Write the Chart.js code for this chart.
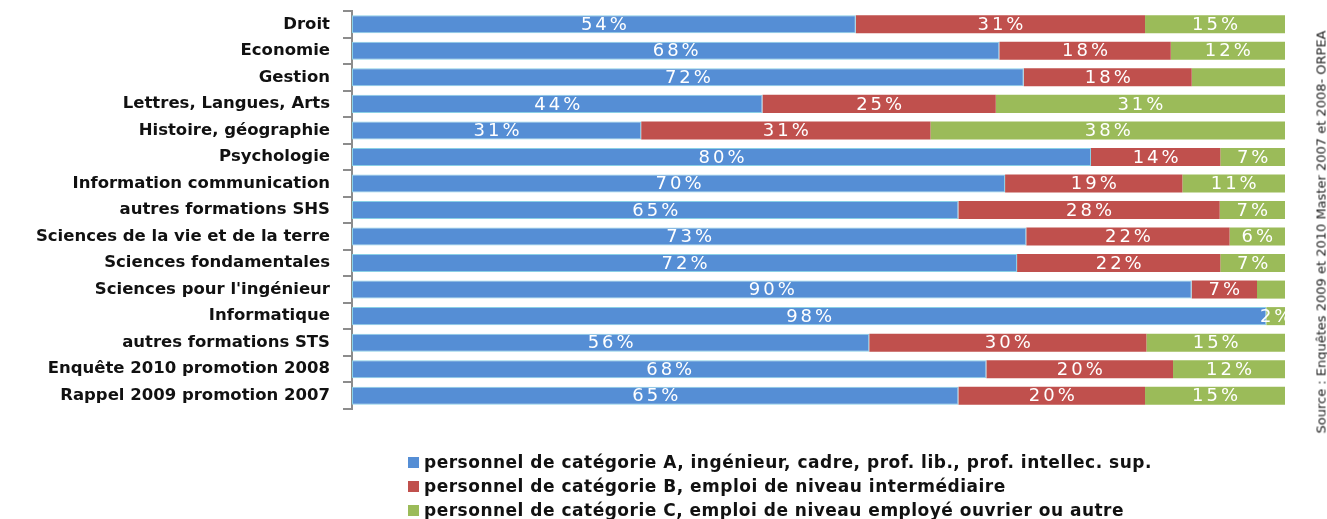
<!DOCTYPE html>
<html>
<head>
<meta charset="utf-8">
<script src="https://cdn.jsdelivr.net/npm/chart.js@4"></script>
<style>
  html, body { margin: 0; padding: 0; background: #fff; }
  #wrap { position: relative; width: 1327px; height: 519px; overflow: hidden; }
  #c { position: absolute; left: 0; top: 0; }
  #legend { position: absolute; left: 408px; top: 450px; font-family: "DejaVu Sans", sans-serif; font-weight: bold; font-size: 17px; color: #111; letter-spacing: 0.5px; }
  #legend div { height: 24px; line-height: 24px; white-space: nowrap; }
  #legend span.sw { display: inline-block; width: 11px; height: 11px; margin-right: 5px; vertical-align: 0px; }
  #source { position: absolute; left: 1321px; top: 232px; transform: translate(-50%, -50%) rotate(-90deg); font-family: "DejaVu Sans", sans-serif; font-size: 13px; font-weight: normal; color: #222; white-space: nowrap; }
</style>
</head>
<body>
<div id="wrap">
  <canvas id="c" width="1327" height="519"></canvas>
  <div id="legend"></div>
  <div id="source">Source : Enquêtes 2009 et 2010 Master 2007 et 2008- ORPEA</div>
</div>
<script>
const categories = [
  "Droit",
  "Economie",
  "Gestion",
  "Lettres, Langues, Arts",
  "Histoire, géographie",
  "Psychologie",
  "Information communication",
  "autres formations SHS",
  "Sciences de la vie et de la terre",
  "Sciences fondamentales",
  "Sciences pour l'ingénieur",
  "Informatique",
  "autres formations STS",
  "Enquête 2010 promotion 2008",
  "Rappel 2009 promotion 2007"
];
const seriesNames = [
  "personnel de catégorie A, ingénieur, cadre, prof. lib., prof. intellec. sup.",
  "personnel de catégorie B, emploi de niveau intermédiaire",
  "personnel de catégorie C, emploi de niveau employé ouvrier ou autre"
];
const catA = [54, 68, 72, 44, 31, 80, 70, 65, 73, 72, 90, 98, 56, 68, 65];
const catB = [31, 18, 18, 25, 31, 14, 19, 28, 22, 22, 7, 0, 30, 20, 20];
const catC = [15, 12, 10, 31, 38, 7, 11, 7, 6, 7, 3, 2, 15, 12, 15];
// labels not printed in the original (Gestion C, Sciences pour l'ingénieur C)
const hiddenLabelsC = ["Gestion", "Sciences pour l'ingénieur"];
const colors = ["#558ED5", "#C0504D", "#9BBB59"];
const borderColors = ["#8AD0E6", "#C0504D", "#9BBB59"];

const raw = [catA, catB, catC];
const totals = categories.map((_, i) => catA[i] + catB[i] + catC[i]);
const norm = raw.map(arr => arr.map((v, i) => v * 100 / totals[i]));

// legend (HTML)
const lg = document.getElementById('legend');
seriesNames.forEach((n, k) => {
  const d = document.createElement('div');
  d.innerHTML = '<span class="sw" style="background:' + colors[k] + '"></span>' + n;
  lg.appendChild(d);
});

const LS = 3;
const labelPlugin = {
  id: 'segLabels',
  afterDatasetsDraw(chart) {
    const ctx = chart.ctx;
    ctx.save();
    ctx.fillStyle = '#ffffff';
    ctx.font = '18px "DejaVu Sans", sans-serif';
    try { ctx.letterSpacing = LS + 'px'; } catch (e) {}
    ctx.textAlign = 'center';
    ctx.textBaseline = 'middle';
    chart.data.datasets.forEach((ds, di) => {
      const meta = chart.getDatasetMeta(di);
      meta.data.forEach((el, i) => {
        const v = raw[di][i];
        if (!v) return;
        if (di === 2 && hiddenLabelsC.includes(categories[i])) return;
        const p = el.getProps(['x', 'base', 'y'], true);
        const cx = (p.x + p.base) / 2 + LS / 2;
        ctx.fillText(v + '%', cx, p.y + 1);
      });
    });
    ctx.restore();
  }
};

new Chart(document.getElementById('c'), {
  type: 'bar',
  data: {
    labels: categories,
    datasets: raw.map((arr, k) => ({
      label: seriesNames[k],
      data: norm[k],
      backgroundColor: colors[k],
      borderColor: borderColors[k],
      borderWidth: k === 0 ? 1 : 0,
      borderSkipped: false,
      barPercentage: 0.68,
      categoryPercentage: 1.0
    }))
  },
  options: {
    indexAxis: 'y',
    responsive: false,
    animation: false,
    layout: { padding: { left: 0, right: 42, top: 11, bottom: 110 } },
    plugins: {
      legend: { display: false },
      tooltip: { enabled: false }
    },
    scales: {
      x: {
        stacked: true,
        min: 0,
        max: 100,
        display: false
      },
      y: {
        stacked: true,
        afterFit(scale) { scale.width = 352; scale.paddingTop = 0; scale.paddingBottom = 0; },
        border: { display: true, color: '#8c8c8c', width: 2 },
        grid: {
          offset: true,
          drawOnChartArea: false,
          drawTicks: true,
          tickLength: 9,
          color: '#8c8c8c',
          lineWidth: 2
        },
        ticks: {
          padding: 13,
          color: '#111',
          font: { family: '"DejaVu Sans", sans-serif', weight: 'bold', size: 16.5 }
        }
      }
    }
  },
  plugins: [labelPlugin]
});
</script>
</body>
</html>
